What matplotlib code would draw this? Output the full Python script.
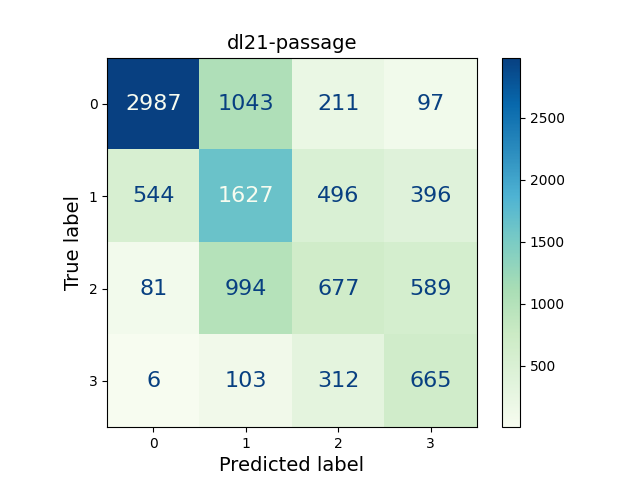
import numpy as np
import matplotlib
matplotlib.use("Agg")
import matplotlib.pyplot as plt

labels = ["0", "1", "2", "3"]
cm = np.array([
    [2987, 1043, 211, 97],
    [544, 1627, 496, 396],
    [81, 994, 677, 589],
    [6, 103, 312, 665],
])
title = "dl21-passage"

fig, ax = plt.subplots(figsize=(6.4, 4.8), dpi=100)
cmap = plt.get_cmap("GnBu")
im = ax.imshow(cm, interpolation="nearest", cmap=cmap)
fig.colorbar(im, ax=ax)

thresh = (cm.max() + cm.min()) / 2.0
for i in range(cm.shape[0]):
    for j in range(cm.shape[1]):
        color = cmap(0.0) if cm[i, j] > thresh else cmap(1.0)
        ax.text(j, i, format(cm[i, j], "d"), ha="center", va="center",
                color=color, fontsize=16)

ax.set_xticks(np.arange(len(labels)))
ax.set_yticks(np.arange(len(labels)))
ax.set_xticklabels(labels)
ax.set_yticklabels(labels)
ax.set_xlabel("Predicted label", fontsize=14)
ax.set_ylabel("True label", fontsize=14)
ax.set_title(title, fontsize=14)

fig.savefig("out.png")
